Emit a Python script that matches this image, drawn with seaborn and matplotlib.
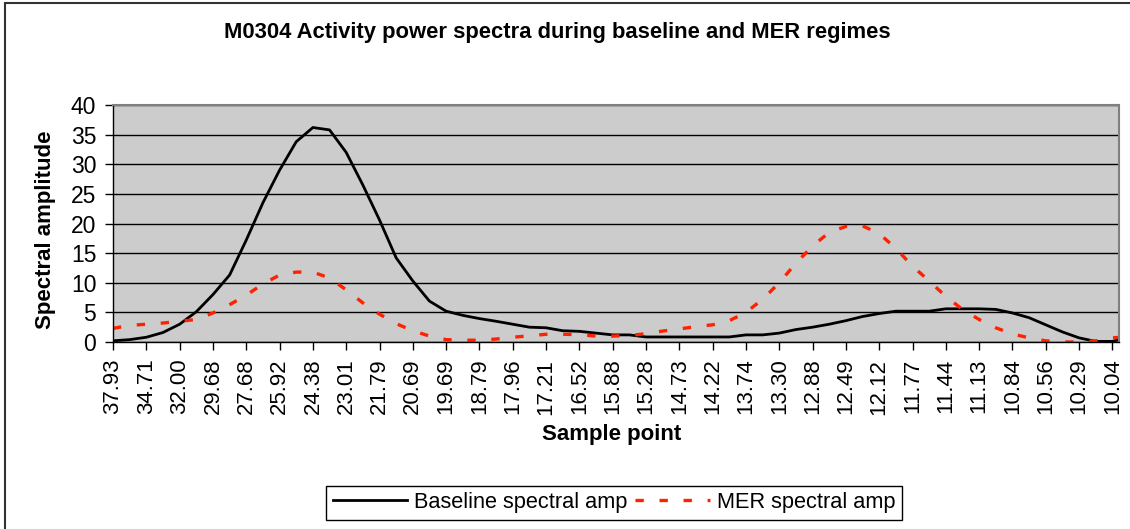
import numpy as np
import pandas as pd
import seaborn as sns
import matplotlib
matplotlib.use('Agg')
from matplotlib import pyplot as plt
from matplotlib.patches import Rectangle

# sample point labels shown on the x axis (one per labelled tick)
sample_labels = ['37.93', '34.71', '32.00', '29.68', '27.68', '25.92', '24.38', '23.01',
                 '21.79', '20.69', '19.69', '18.79', '17.96', '17.21', '16.52', '15.88',
                 '15.28', '14.73', '14.22', '13.74', '13.30', '12.88', '12.49', '12.12',
                 '11.77', '11.44', '11.13', '10.84', '10.56', '10.29', '10.04']

# values read every half tick interval
baseline = [0.2, 0.4, 0.8, 1.6, 3.0, 5.1, 8.0, 11.3, 17.2, 23.5,
            29.0, 33.8, 36.2, 35.8, 32.0, 26.5, 20.6, 14.2, 10.3, 6.9,
            5.2, 4.5, 3.95, 3.5, 3.0, 2.5, 2.4, 1.9, 1.8, 1.5,
            1.2, 1.2, 0.85, 0.85, 0.85, 0.85, 0.85, 0.85, 1.2, 1.2,
            1.5, 2.1, 2.5, 3.0, 3.6, 4.3, 4.8, 5.2, 5.2, 5.2,
            5.6, 5.6, 5.6, 5.5, 4.9, 4.1, 2.9, 1.7, 0.7, 0.1,
            0.1, 0.8]
mer = [2.3, 2.8, 3.0, 3.2, 3.5, 3.8, 4.9, 6.3, 7.9, 9.8,
       11.3, 11.8, 11.8, 10.8, 8.8, 6.6, 4.7, 3.1, 1.9, 1.0,
       0.4, 0.3, 0.3, 0.5, 0.8, 1.05, 1.3, 1.3, 1.25, 1.0,
       1.0, 1.1, 1.4, 1.85, 2.2, 2.6, 2.9, 3.6, 5.0, 7.2,
       10.0, 13.3, 16.2, 18.5, 19.5, 19.6, 18.3, 15.8, 12.8, 10.3,
       7.7, 5.5, 3.8, 2.4, 1.35, 0.7, 0.2, 0.0, 0.0, 0.2,
       0.7, 0.9]

pos = np.arange(len(baseline)) * 0.5
df = pd.concat([
    pd.DataFrame({'pos': pos, 'amp': baseline, 'series': 'Baseline spectral amp'}),
    pd.DataFrame({'pos': pos, 'amp': mer, 'series': 'MER spectral amp'}),
])

plt.rcParams['font.family'] = ['Liberation Sans', 'DejaVu Sans']
plt.rcParams['lines.scale_dashes'] = False

fig = plt.figure(figsize=(11.3, 5.29), dpi=100)
ax = fig.add_axes([0.1, 0.3535, 0.8903, 0.448])

sns.lineplot(data=df, x='pos', y='amp', hue='series', style='series',
             palette={'Baseline spectral amp': 'black', 'MER spectral amp': '#ff2200'},
             dashes={'Baseline spectral amp': '', 'MER spectral amp': (6, 11.3)},
             linewidth=2.0, ax=ax, legend=False)
for ln in ax.lines:
    if ln.get_color() != 'black':
        ln.set_linewidth(2.4)
        ln.set_dash_capstyle('butt')

ax.set_facecolor('#cccccc')
ax.set_xlim(0, 30.2)
ax.set_ylim(0, 40)
ax.set_yticks(range(0, 41, 5))
ax.set_xticks(range(len(sample_labels)))
ax.set_xticklabels(sample_labels, rotation=90, fontsize=16)
ax.tick_params(axis='y', labelsize=16.5, length=6, width=1, pad=6)
ax.tick_params(axis='x', length=6, width=1, pad=6)
ax.grid(axis='y', color='black', linewidth=1)
ax.set_axisbelow(True)
for s in ['top', 'right']:
    ax.spines[s].set_color('#808080')
    ax.spines[s].set_linewidth(1.5)
for s in ['left', 'bottom']:
    ax.spines[s].set_color('black')
    ax.spines[s].set_linewidth(1)
ax.set_xlabel('')
ax.set_ylabel('')

fig.text(0.493, 0.9395, 'M0304 Activity power spectra during baseline and MER regimes',
         ha='center', va='center', fontsize=15.8, fontweight='bold')
fig.text(0.040, 0.565, 'Spectral amplitude', rotation=90, ha='center', va='center',
         fontsize=16, fontweight='bold')
fig.text(0.5416, 0.1777, 'Sample point', ha='center', va='center',
         fontsize=16, fontweight='bold')

handles = [plt.Line2D([], [], color='black', linewidth=2.0),
           plt.Line2D([], [], color='#ff2200', linewidth=2.4, linestyle=(0, (6, 11.3)))]
leg = fig.legend(handles, ['Baseline spectral amp', 'MER spectral amp'],
                 loc='center', bbox_to_anchor=(614 / 1130, 0.05), ncol=2, fontsize=15.7,
                 frameon=True, fancybox=False, edgecolor='black', framealpha=1,
                 handlelength=3.4, handletextpad=0.32, columnspacing=0.37,
                 borderpad=0.3, borderaxespad=0)
leg.get_frame().set_linewidth(1)

# outer chart frame
fig.patches.append(Rectangle((5 / 1130, -0.1), 1.2, 1 - 3 / 529 + 0.1, transform=fig.transFigure,
                             fill=False, edgecolor='#333333', linewidth=1.5))

fig.savefig('out.png', dpi=100)
